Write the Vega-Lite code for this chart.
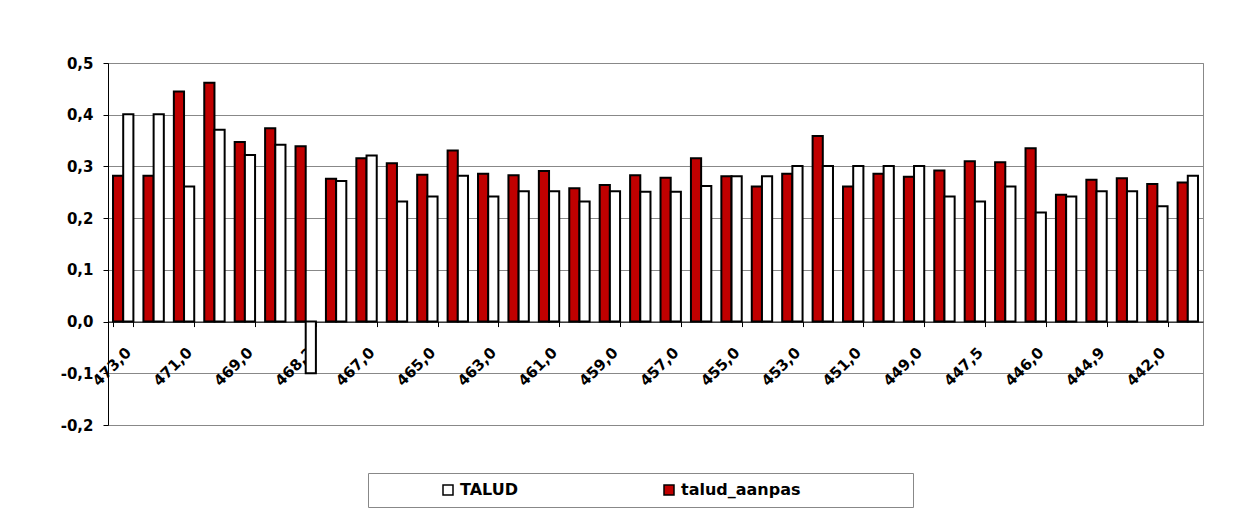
{
  "$schema": "https://vega.github.io/schema/vega-lite/v6.json",
  "autosize": {"type": "none"},
  "padding": {"left": 108, "top": 63, "right": 37, "bottom": 95},
  "width": 1095,
  "height": 362,
  "background": "white",
  "config": {
    "font": "DejaVu Sans",
    "view": {"stroke": "#888888", "strokeWidth": 1}
  },
  "data": {
    "values": [
      {"km": "473,0", "serie": "talud_aanpas", "v": 0.282}, {"km": "473,0", "serie": "TALUD", "v": 0.401},
      {"km": "472,0", "serie": "talud_aanpas", "v": 0.282}, {"km": "472,0", "serie": "TALUD", "v": 0.401},
      {"km": "471,0", "serie": "talud_aanpas", "v": 0.445}, {"km": "471,0", "serie": "TALUD", "v": 0.261},
      {"km": "470,0", "serie": "talud_aanpas", "v": 0.462}, {"km": "470,0", "serie": "TALUD", "v": 0.371},
      {"km": "469,0", "serie": "talud_aanpas", "v": 0.347}, {"km": "469,0", "serie": "TALUD", "v": 0.322},
      {"km": "468,5", "serie": "talud_aanpas", "v": 0.374}, {"km": "468,5", "serie": "TALUD", "v": 0.342},
      {"km": "468,2", "serie": "talud_aanpas", "v": 0.339}, {"km": "468,2", "serie": "TALUD", "v": -0.1},
      {"km": "467,5", "serie": "talud_aanpas", "v": 0.276}, {"km": "467,5", "serie": "TALUD", "v": 0.272},
      {"km": "467,0", "serie": "talud_aanpas", "v": 0.316}, {"km": "467,0", "serie": "TALUD", "v": 0.321},
      {"km": "466,0", "serie": "talud_aanpas", "v": 0.306}, {"km": "466,0", "serie": "TALUD", "v": 0.232},
      {"km": "465,0", "serie": "talud_aanpas", "v": 0.284}, {"km": "465,0", "serie": "TALUD", "v": 0.242},
      {"km": "464,0", "serie": "talud_aanpas", "v": 0.331}, {"km": "464,0", "serie": "TALUD", "v": 0.282},
      {"km": "463,0", "serie": "talud_aanpas", "v": 0.286}, {"km": "463,0", "serie": "TALUD", "v": 0.242},
      {"km": "462,0", "serie": "talud_aanpas", "v": 0.283}, {"km": "462,0", "serie": "TALUD", "v": 0.252},
      {"km": "461,0", "serie": "talud_aanpas", "v": 0.291}, {"km": "461,0", "serie": "TALUD", "v": 0.252},
      {"km": "460,0", "serie": "talud_aanpas", "v": 0.258}, {"km": "460,0", "serie": "TALUD", "v": 0.232},
      {"km": "459,0", "serie": "talud_aanpas", "v": 0.264}, {"km": "459,0", "serie": "TALUD", "v": 0.252},
      {"km": "458,0", "serie": "talud_aanpas", "v": 0.283}, {"km": "458,0", "serie": "TALUD", "v": 0.251},
      {"km": "457,0", "serie": "talud_aanpas", "v": 0.278}, {"km": "457,0", "serie": "TALUD", "v": 0.251},
      {"km": "456,0", "serie": "talud_aanpas", "v": 0.316}, {"km": "456,0", "serie": "TALUD", "v": 0.262},
      {"km": "455,0", "serie": "talud_aanpas", "v": 0.281}, {"km": "455,0", "serie": "TALUD", "v": 0.281},
      {"km": "454,0", "serie": "talud_aanpas", "v": 0.261}, {"km": "454,0", "serie": "TALUD", "v": 0.281},
      {"km": "453,0", "serie": "talud_aanpas", "v": 0.286}, {"km": "453,0", "serie": "TALUD", "v": 0.301},
      {"km": "452,0", "serie": "talud_aanpas", "v": 0.359}, {"km": "452,0", "serie": "TALUD", "v": 0.301},
      {"km": "451,0", "serie": "talud_aanpas", "v": 0.261}, {"km": "451,0", "serie": "TALUD", "v": 0.301},
      {"km": "450,0", "serie": "talud_aanpas", "v": 0.286}, {"km": "450,0", "serie": "TALUD", "v": 0.301},
      {"km": "449,0", "serie": "talud_aanpas", "v": 0.280}, {"km": "449,0", "serie": "TALUD", "v": 0.301},
      {"km": "448,0", "serie": "talud_aanpas", "v": 0.292}, {"km": "448,0", "serie": "TALUD", "v": 0.242},
      {"km": "447,5", "serie": "talud_aanpas", "v": 0.310}, {"km": "447,5", "serie": "TALUD", "v": 0.232},
      {"km": "447,0", "serie": "talud_aanpas", "v": 0.308}, {"km": "447,0", "serie": "TALUD", "v": 0.261},
      {"km": "446,0", "serie": "talud_aanpas", "v": 0.335}, {"km": "446,0", "serie": "TALUD", "v": 0.211},
      {"km": "445,5", "serie": "talud_aanpas", "v": 0.245}, {"km": "445,5", "serie": "TALUD", "v": 0.242},
      {"km": "444,9", "serie": "talud_aanpas", "v": 0.274}, {"km": "444,9", "serie": "TALUD", "v": 0.252},
      {"km": "443,0", "serie": "talud_aanpas", "v": 0.277}, {"km": "443,0", "serie": "TALUD", "v": 0.252},
      {"km": "442,0", "serie": "talud_aanpas", "v": 0.266}, {"km": "442,0", "serie": "TALUD", "v": 0.223},
      {"km": "441,0", "serie": "talud_aanpas", "v": 0.269}, {"km": "441,0", "serie": "TALUD", "v": 0.282}
    ]
  },
  "mark": {"type": "bar", "stroke": "black", "strokeWidth": 2},
  "encoding": {
    "x": {
      "field": "km",
      "type": "nominal",
      "sort": null,
      "scale": {"paddingInner": 0.33, "paddingOuter": 0.165},
      "axis": {
        "title": null,
        "offset": -103.43,
        "domainColor": "black",
        "domainWidth": 1,
        "tickBand": "extent",
        "tickColor": "black",
        "tickSize": 5,
        "labelAngle": -45,
        "labelPadding": 18,
        "labelFont": "DejaVu Sans",
        "labelFontWeight": "bold",
        "labelFontSize": 15,
        "labelColor": "black",
        "labelOverlap": false,
        "values": ["473,0","471,0","469,0","468,2","467,0","465,0","463,0","461,0","459,0","457,0","455,0","453,0","451,0","449,0","447,5","446,0","444,9","442,0"]
      }
    },
    "xOffset": {
      "field": "serie",
      "type": "nominal",
      "sort": ["talud_aanpas", "TALUD"],
      "scale": {"paddingInner": 0, "paddingOuter": 0}
    },
    "y": {
      "field": "v",
      "type": "quantitative",
      "scale": {"domain": [-0.2, 0.5], "nice": false, "zero": false},
      "axis": {
        "title": null,
        "values": [-0.2, -0.1, 0, 0.1, 0.2, 0.3, 0.4, 0.5],
        "grid": true,
        "gridColor": "#888888",
        "gridWidth": 1,
        "domainColor": "black",
        "tickColor": "black",
        "tickSize": 5,
        "labelPadding": 10,
        "labelFont": "DejaVu Sans",
        "labelFontWeight": "bold",
        "labelFontSize": 15,
        "labelColor": "black",
        "labelExpr": "replace(replace(format(datum.value, '.1f'), '.', ','), '−', '-')"
      }
    },
    "fill": {
      "field": "serie",
      "type": "nominal",
      "scale": {"domain": ["TALUD", "talud_aanpas"], "range": ["white", "#C00000"]},
      "legend": {
        "orient": "none",
        "legendX": 260,
        "legendY": 410,
        "direction": "horizontal",
        "title": "\u00a0",
        "titleOrient": "right",
        "titlePadding": 103,
        "padding": 9,
        "strokeColor": "#888888",
        "fillColor": "white",
        "symbolType": "square",
        "symbolSize": 100,
        "symbolStrokeColor": "black",
        "symbolStrokeWidth": 1.5,
        "symbolOffset": 63,
        "columnPadding": 80,
        "labelFont": "DejaVu Sans",
        "labelFontWeight": "bold",
        "labelFontSize": 16,
        "labelColor": "black",
        "labelOffset": 4
      }
    }
  }
}
